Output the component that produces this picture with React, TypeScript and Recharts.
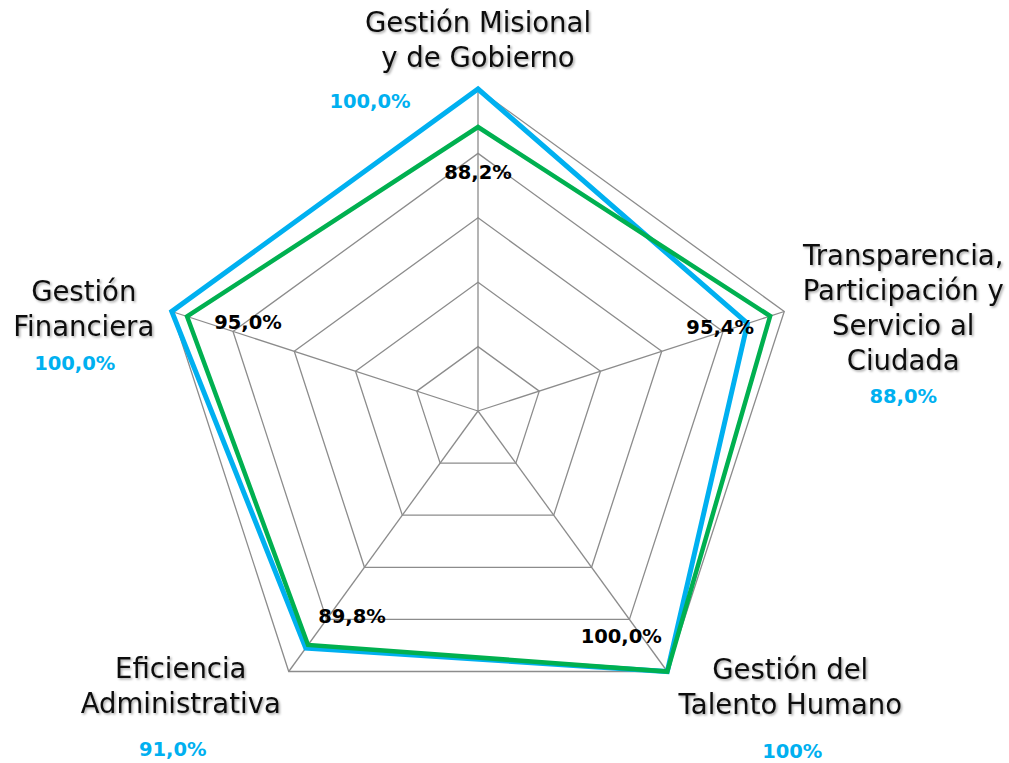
import { RadarChart, Radar, PolarGrid, PolarAngleAxis, PolarRadiusAxis } from 'recharts'

const categories = [
  ['Gestión Misional', 'y de Gobierno'],
  ['Transparencia,', 'Participación y', 'Servicio al', 'Ciudada'],
  ['Gestión del', 'Talento Humano'],
  ['Eficiencia', 'Administrativa'],
  ['Gestión', 'Financiera'],
]
const blueValues = [100, 88, 100, 91, 100]
const greenValues = [88.2, 95.4, 100, 89.8, 95]
const blueLabels = ['100,0%', '88,0%', '100%', '91,0%', '100,0%']
const greenLabels = ['88,2%', '95,4%', '100,0%', '89,8%', '95,0%']

const chartData = categories.map((c, i) => ({
  key: String(i),
  blue: blueValues[i],
  green: greenValues[i],
}))

const BLUE = '#00B0F0'
const GREEN = '#00B050'
const FONT = '"DejaVu Sans", sans-serif'

// label placement relative to each axis vertex: [dx, first-line dy, blue dx, blue dy]
const nameOffsets = [
  [0, -67, -108, 12],
  [119, -56, 119, 85],
  [123, -3, 125, 80],
  [-108, -4, -116, 78],
  [-88, -20, -97, 52],
]
const greenOffsets = [
  [0, 46],
  [-50, 11],
  [-46, -35],
  [44, -28],
  [61, 6],
]

const AngleTick = (props: any) => {
  const { cx, cy, radius, index, payload } = props
  const a = (payload.coordinate * Math.PI) / 180
  const vx = cx + radius * Math.cos(a)
  const vy = cy - radius * Math.sin(a)
  const [dx, dy, bx, by] = nameOffsets[index]
  return (
    <g>
      <text
        x={vx + dx}
        y={vy + dy}
        textAnchor="middle"
        dominantBaseline="central"
        fill="#111"
        fontFamily={FONT}
        fontSize={27.5}
        filter="url(#shadow)"
      >
        {categories[index].map((line, j) => (
          <tspan key={j} x={vx + dx} dy={j === 0 ? 0 : 35}>
            {line}
          </tspan>
        ))}
      </text>
      <text
        x={vx + bx}
        y={vy + by}
        textAnchor="middle"
        dominantBaseline="central"
        fill={BLUE}
        fontFamily={FONT}
        fontWeight="bold"
        fontSize={19.5}
      >
        {blueLabels[index]}
      </text>
    </g>
  )
}

const GreenLabel = (props: any) => {
  const { cx, cy, index } = props
  const [dx, dy] = greenOffsets[index]
  return (
    <text
      key={index}
      x={cx + dx}
      y={cy + dy}
      textAnchor="middle"
      dominantBaseline="central"
      fill="#000"
      fontFamily={FONT}
      fontWeight="bold"
      fontSize={19.5}
    >
      {greenLabels[index]}
    </text>
  )
}

export default function App() {
  return (
    <div style={{ position: 'absolute', left: 0, top: 0, background: '#fff' }}>
      <RadarChart
        width={1009}
        height={763}
        data={chartData}
        cx={478}
        cy={411}
        outerRadius={322}
        startAngle={90}
        endAngle={-270}
      >
        <defs>
          <filter id="shadow" x="-10%" y="-10%" width="120%" height="130%">
            <feDropShadow dx="1.5" dy="1.5" stdDeviation="1" floodColor="#000" floodOpacity="0.35" />
          </filter>
        </defs>
        <PolarGrid gridType="polygon" stroke="#8c8c8c" strokeWidth={1.3} polarRadius={[64.4, 128.8, 193.2, 257.6, 322]} />
        <PolarAngleAxis dataKey="key" tick={<AngleTick />} tickLine={false} axisLine={false} />
        <PolarRadiusAxis domain={[0, 100]} tick={false} axisLine={false} tickCount={6} />
        <Radar
          dataKey="blue"
          stroke={BLUE}
          strokeWidth={5}
          fill="none"
          fillOpacity={0}
          dot={false}
          isAnimationActive={false}
        />
        <Radar
          dataKey="green"
          stroke={GREEN}
          strokeWidth={4.5}
          fill="none"
          fillOpacity={0}
          dot={(p: any) => <GreenLabel key={p.index} {...p} />}
          isAnimationActive={false}
        />
      </RadarChart>
    </div>
  )
}
